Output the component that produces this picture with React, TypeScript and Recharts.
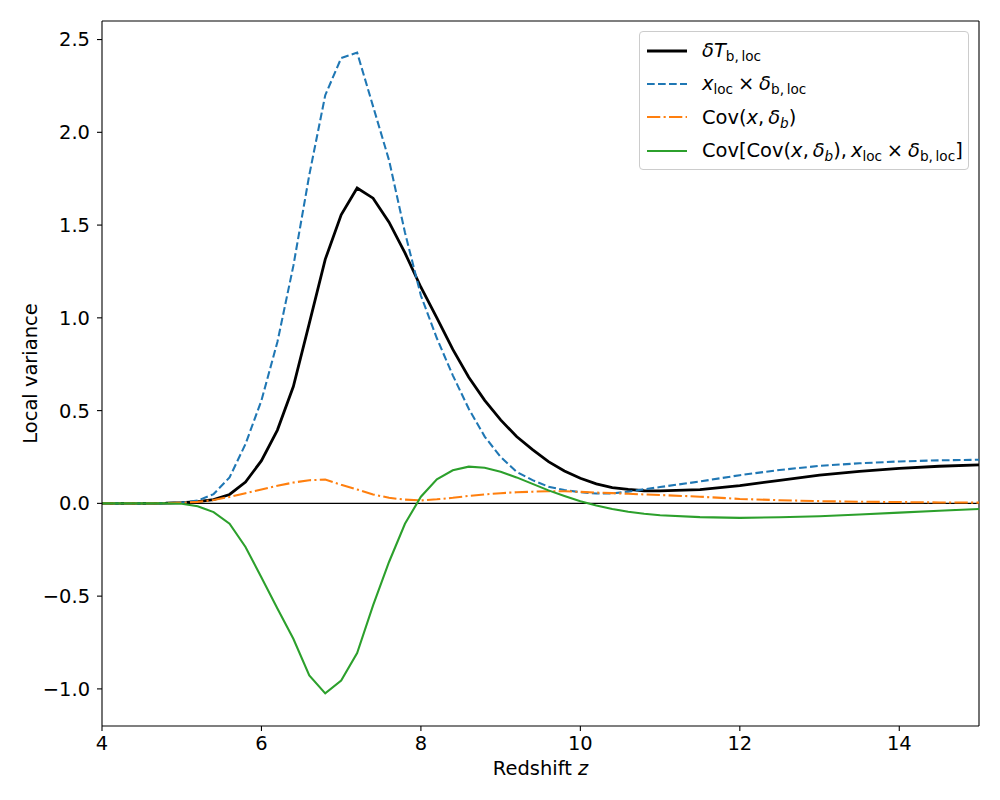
import React from 'react';
import { LineChart, Line, XAxis, YAxis, ReferenceLine, Legend } from 'recharts';

const Z = [4.0, 4.2, 4.4, 4.6, 4.8, 5.0, 5.2, 5.4, 5.6, 5.8, 6.0, 6.2, 6.4, 6.6, 6.8, 7.0, 7.2, 7.4, 7.6, 7.8, 8.0, 8.2, 8.4, 8.6, 8.8, 9.0, 9.2, 9.4, 9.6, 9.8, 10.0, 10.2, 10.4, 10.6, 10.8, 11.0, 11.5, 12.0, 12.5, 13.0, 13.5, 14.0, 14.5, 15.0];
const DELTA_T = [0, 0, 0, 0, 0.001, 0.004, 0.01, 0.02, 0.048, 0.115, 0.23, 0.395, 0.63, 0.97, 1.315, 1.555, 1.70, 1.645, 1.516, 1.35, 1.165, 1.0, 0.83, 0.68, 0.555, 0.45, 0.36, 0.29, 0.225, 0.175, 0.135, 0.105, 0.085, 0.075, 0.068, 0.067, 0.074, 0.096, 0.124, 0.152, 0.173, 0.189, 0.2, 0.208];
const X_DELTA = [0, 0, 0, 0, 0.001, 0.004, 0.015, 0.05, 0.14, 0.32, 0.555, 0.87, 1.28, 1.77, 2.2, 2.4, 2.43, 2.14, 1.85, 1.46, 1.12, 0.89, 0.69, 0.51, 0.36, 0.25, 0.17, 0.125, 0.09, 0.072, 0.06, 0.053, 0.054, 0.063, 0.076, 0.088, 0.118, 0.152, 0.18, 0.202, 0.216, 0.226, 0.232, 0.235];
const COV_XD = [0, 0, 0, 0, 0.001, 0.003, 0.008, 0.018, 0.035, 0.055, 0.075, 0.095, 0.112, 0.125, 0.128, 0.1, 0.075, 0.048, 0.03, 0.02, 0.016, 0.022, 0.03, 0.04, 0.048, 0.055, 0.06, 0.063, 0.065, 0.065, 0.062, 0.058, 0.055, 0.052, 0.048, 0.045, 0.036, 0.024, 0.017, 0.012, 0.009, 0.007, 0.005, 0.004];
const COV_COV = [0, 0, 0, 0, 0, -0.002, -0.016, -0.047, -0.11, -0.235, -0.4, -0.567, -0.73, -0.927, -1.024, -0.955, -0.807, -0.55, -0.316, -0.11, 0.036, 0.13, 0.178, 0.198, 0.192, 0.17, 0.14, 0.105, 0.07, 0.04, 0.012, -0.012, -0.03, -0.045, -0.056, -0.064, -0.074, -0.078, -0.075, -0.069, -0.06, -0.05, -0.04, -0.03];

const X_TICKS = [4, 6, 8, 10, 12, 14];
const Y_TICKS = [-1.0, -0.5, 0.0, 0.5, 1.0, 1.5, 2.0, 2.5];
const X_DOMAIN: [number, number] = [4, 15];
const Y_DOMAIN: [number, number] = [-1.2, 2.6];

const data = Z.map((z, i) => ({
  z,
  dT: DELTA_T[i],
  xd: X_DELTA[i],
  cov: COV_XD[i],
  cc: COV_COV[i],
}));

const FONT = '"DejaVu Sans", sans-serif';
const FS = 19.44;

const BLUE = '#1f77b4';
const ORANGE = '#ff7f0e';
const GREEN = '#2ca02c';

const fmtY = (v: number) => v.toFixed(1).replace('-', '\u2212');

const subStyle: React.CSSProperties = { fontSize: '0.7em', position: 'relative', top: '0.3em', fontStyle: 'normal' };
const subItalic: React.CSSProperties = { ...subStyle, fontStyle: 'italic' };
const it: React.CSSProperties = { fontStyle: 'italic' };

const TH = '\u2009';
const MED = '\u2005';

const legendItems = [
  {
    key: 'dT', color: '#000', width: 2.78, dash: undefined as string | undefined,
    label: (<span><span style={it}>δT</span><span style={subStyle}>b,{TH}loc</span></span>),
  },
  {
    key: 'xd', color: BLUE, width: 2.08, dash: '7.7 3.3',
    label: (<span><span style={it}>x</span><span style={subStyle}>loc</span>{MED}×{MED}<span style={it}>δ</span><span style={subStyle}>b,{TH}loc</span></span>),
  },
  {
    key: 'cov', color: ORANGE, width: 2.08, dash: '13.3 3.3 2.1 3.3',
    label: (<span>Cov(<span style={it}>x</span>,{TH}<span style={it}>δ</span><span style={subItalic}>b</span>)</span>),
  },
  {
    key: 'cc', color: GREEN, width: 2.08, dash: undefined,
    label: (<span>Cov[Cov(<span style={it}>x</span>,{TH}<span style={it}>δ</span><span style={subItalic}>b</span>),{TH}<span style={it}>x</span><span style={subStyle}>loc</span>{MED}×{MED}<span style={it}>δ</span><span style={subStyle}>b,{TH}loc</span>]</span>),
  },
];

const LegendBox = () => (
  <div
    style={{
      background: 'rgba(255,255,255,0.8)',
      border: '1px solid #cccccc',
      borderRadius: 4,
      padding: '2px 6px 4px 7px',
      fontFamily: FONT,
      fontSize: FS,
      color: '#000',
      boxSizing: 'border-box',
      width: 330,
      height: 139,
    }}
  >
    {legendItems.map((item) => (
      <div key={item.key} style={{ display: 'flex', alignItems: 'center', height: 33.3, whiteSpace: 'nowrap' }}>
        <svg width={40} height={10} style={{ flex: 'none', marginRight: 15 }}>
          <line x1={0} y1={5} x2={40} y2={5} stroke={item.color} strokeWidth={item.width} strokeDasharray={item.dash} />
        </svg>
        <span style={{ lineHeight: 1 }}>{item.label}</span>
      </div>
    ))}
  </div>
);

const XLabel = (props: any) => {
  const vb = props.viewBox || { x: 94, y: 718, width: 877, height: 66 };
  return (
    <text x={vb.x + vb.width / 2} y={vb.y + 49} textAnchor="middle" fontFamily={FONT} fontSize={FS} fill="#000">
      Redshift <tspan fontStyle="italic">z</tspan>
    </text>
  );
};

const YLabel = (props: any) => {
  const vb = props.viewBox || { x: 0, y: 13, width: 94, height: 705 };
  const cx = vb.x + 22;
  const cy = vb.y + vb.height / 2;
  return (
    <text
      x={cx}
      y={cy}
      dy="0.35em"
      transform={`rotate(-90, ${cx}, ${cy})`}
      textAnchor="middle"
      fontFamily={FONT}
      fontSize={FS}
      fill="#000"
    >
      Local variance
    </text>
  );
};

export default function App() {
  const tickStyle = { fill: '#000', fontSize: FS, fontFamily: FONT };
  return (
    <div style={{ width: 984, height: 784, background: '#fff' }}>
      <LineChart width={984} height={784} data={data} margin={{ top: 13, right: 13, bottom: 0, left: 0 }}>
        <XAxis
          dataKey="z"
          type="number"
          domain={X_DOMAIN}
          ticks={X_TICKS}
          allowDataOverflow
          height={66}
          stroke="#000"
          tick={tickStyle}
          tickLine={{ stroke: '#000', strokeWidth: 1.1 }}
          axisLine={{ stroke: '#000', strokeWidth: 1.1 }}
          tickSize={5}
          tickMargin={5}
          interval={0}
          label={{ content: XLabel }}
        />
        <YAxis
          type="number"
          domain={Y_DOMAIN}
          ticks={Y_TICKS}
          allowDataOverflow
          width={94}
          stroke="#000"
          tick={tickStyle}
          tickFormatter={fmtY}
          tickLine={{ stroke: '#000', strokeWidth: 1.1 }}
          axisLine={{ stroke: '#000', strokeWidth: 1.1 }}
          tickSize={5}
          tickMargin={7}
          interval={0}
          label={{ content: YLabel }}
        />
        <ReferenceLine y={0} stroke="#000" strokeWidth={1.1} />
        <ReferenceLine y={Y_DOMAIN[1]} stroke="#000" strokeWidth={1.1} />
        <ReferenceLine x={X_DOMAIN[1]} stroke="#000" strokeWidth={1.1} />
        <Line type="linear" dataKey="dT" stroke="#000" strokeWidth={2.78} dot={false} isAnimationActive={false} />
        <Line type="linear" dataKey="xd" stroke={BLUE} strokeWidth={2.08} strokeDasharray="7.7 3.3" dot={false} isAnimationActive={false} />
        <Line type="linear" dataKey="cov" stroke={ORANGE} strokeWidth={2.08} strokeDasharray="13.3 3.3 2.1 3.3" dot={false} isAnimationActive={false} />
        <Line type="linear" dataKey="cc" stroke={GREEN} strokeWidth={2.08} dot={false} isAnimationActive={false} />
        <Legend
          layout="vertical"
          align="center"
          verticalAlign="middle"
          content={LegendBox}
          wrapperStyle={{ position: 'absolute', left: 631, top: 23, width: 'auto', height: 'auto' }}
        />
      </LineChart>
    </div>
  );
}
